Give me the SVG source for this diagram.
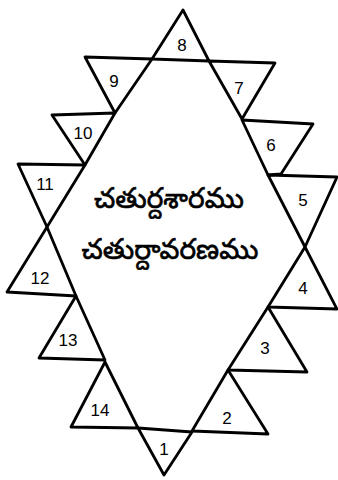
<svg xmlns="http://www.w3.org/2000/svg" width="338" height="480" viewBox="0 0 338 480">
<style>
.tri{fill:none;stroke:#000;stroke-width:2.8;stroke-linejoin:round;stroke-linecap:round}
.num{font-family:"Liberation Sans","DejaVu Sans",sans-serif;font-size:17px;fill:#000;text-anchor:middle}
.tel{font-family:"Noto Sans Telugu","Lohit Telugu","Gautami","Noto Sans",sans-serif;font-size:28px;fill:#000;stroke:#000;stroke-width:0.6;text-anchor:middle}
</style>
<rect width="338" height="480" fill="#fff"/>
<g id="connectors"></g>
<g id="t8"><polygon class="tri" points="183,10 209,61 152,59"/><text class="num" x="182" y="51">8</text></g>
<g id="t9"><polygon class="tri" points="85,57 152,59 115,113"/><text class="num" x="114" y="87">9</text></g>
<g id="t7"><polygon class="tri" points="209,61 275,63 242,119"/><text class="num" x="239" y="94">7</text></g>
<g id="t10"><polygon class="tri" points="52,115 115,113 85,165"/><text class="num" x="83" y="139">10</text></g>
<g id="t6"><polygon class="tri" points="242,120 313,124 281,174 268,175"/><text class="num" x="271" y="151">6</text></g>
<g id="t11"><polygon class="tri" points="18,164 85,165 47,227"/><text class="num" x="45" y="190">11</text></g>
<g id="t5"><polygon class="tri" points="268,175 337,177 305,247"/><text class="num" x="303" y="206">5</text></g>
<g id="t12"><polygon class="tri" points="47,227 76,296 7,292"/><text class="num" x="40" y="284">12</text></g>
<g id="t4"><polygon class="tri" points="305,247 337,309 268,307"/><text class="num" x="303" y="294">4</text></g>
<g id="t13"><polygon class="tri" points="76,296 105,360 39,358"/><text class="num" x="68" y="346">13</text></g>
<g id="t3"><polygon class="tri" points="268,307 307,372 228,370"/><text class="num" x="265" y="354">3</text></g>
<g id="t14"><polygon class="tri" points="105,362 138,428 71,427"/><text class="num" x="100" y="416">14</text></g>
<g id="t2"><polygon class="tri" points="228,370 268,434 192,431"/><text class="num" x="227" y="424">2</text></g>
<g id="t1"><polygon class="tri" points="138,428 192,432 164,475"/><text class="num" x="164" y="455">1</text></g>
<g id="center">
<text class="tel" x="169" y="208">చతుర్దశారము</text>
<text class="tel" x="170" y="259">చతుర్దావరణము</text>
</g>
</svg>
